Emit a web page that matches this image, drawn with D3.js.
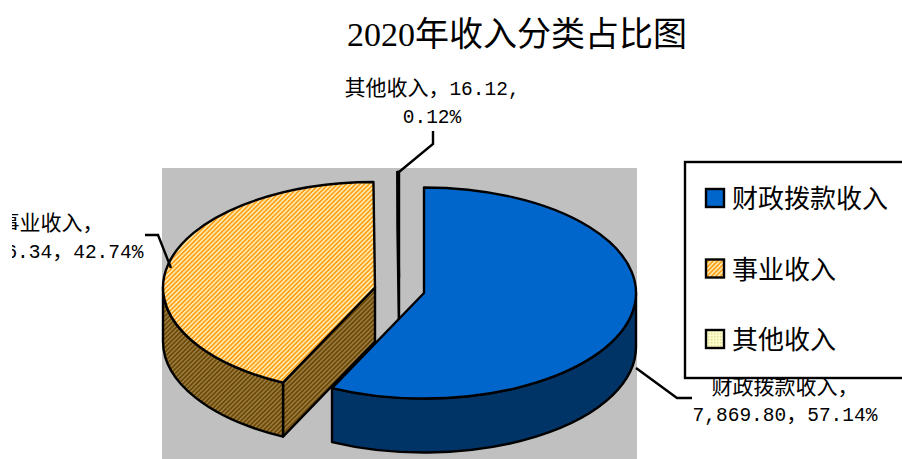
<!DOCTYPE html>
<html>
<head>
<meta charset="utf-8">
<script src="https://cdn.jsdelivr.net/npm/d3@7"></script>
<style>
html, body { margin: 0; padding: 0; background: #fff; overflow: hidden; }
svg { display: block; }
</style>
</head>
<body>
<svg id="chart"></svg>
<script>
const titleText = "2020年收入分类占比图";
const categories = ["财政拨款收入", "事业收入", "其他收入"];
const values = [7869.80, 5886.34, 16.12];
const percents = ["57.14%", "42.74%", "0.12%"];

const WIDTH = 902, HEIGHT = 459;
const RX = 212, RY = 105.5, DEPTH = 54;
const CJK = '"Noto Sans CJK SC"';
const LATIN = '"Liberation Mono"';

// each slice is pulled out of the pie, so each has its own centre
const centres = [[424, 293], [375, 287.5], [399, 277.5]];
const drawOrder = [2, 1, 0];

const svg = d3.select("#chart").attr("width", WIDTH).attr("height", HEIGHT);
const defs = svg.append("defs");

function stripes(id, base, line, w) {
    const p = defs.append("pattern").attr("id", id)
        .attr("width", w).attr("height", w)
        .attr("patternUnits", "userSpaceOnUse")
        .attr("patternTransform", "rotate(45)");
    p.append("rect").attr("width", w).attr("height", w).attr("fill", base);
    p.append("rect").attr("width", w / 2).attr("height", w).attr("fill", line);
}
stripes("orangeTop", "#ffe9a8", "#ff9f1a", 3.2);
stripes("orangeSide", "#967a44", "#6e4800", 3.2);

const dots = defs.append("pattern").attr("id", "paleDots")
    .attr("width", 3).attr("height", 3).attr("patternUnits", "userSpaceOnUse");
dots.append("rect").attr("width", 3).attr("height", 3).attr("fill", "#ffffcc");
dots.append("rect").attr("width", 1.5).attr("height", 1.5).attr("fill", "#e0e09c");

const topFills = ["#0066cc", "url(#orangeTop)", "url(#paleDots)"];
const sideFills = ["#003366", "url(#orangeSide)", "#88886a"];

svg.append("rect").attr("x", 162).attr("y", 168)
    .attr("width", 475).attr("height", HEIGHT - 168).attr("fill", "#c0c0c0");

const slices = d3.pie().sort(null)(values);

function pt(c, a, drop = 0) {
    return [c[0] + RX * Math.sin(a), c[1] - RY * Math.cos(a) + drop];
}
const arcTo = (p, sweep) => `A${RX},${RY} 0 0 ${sweep} ${p[0]},${p[1]}`;

function topPath(c, s) {
    const large = s.endAngle - s.startAngle > Math.PI ? 1 : 0;
    const p0 = pt(c, s.startAngle), p1 = pt(c, s.endAngle);
    return `M${c[0]},${c[1]}L${p0[0]},${p0[1]}A${RX},${RY} 0 ${large} 1 ${p1[0]},${p1[1]}Z`;
}

// outer wall, only the part that faces the viewer
function wallPath(c, s) {
    const a0 = Math.max(s.startAngle, Math.PI / 2);
    const a1 = Math.min(s.endAngle, Math.PI * 1.5);
    if (a1 <= a0) return null;
    const p0 = pt(c, a0), p1 = pt(c, a1);
    const q0 = pt(c, a0, DEPTH), q1 = pt(c, a1, DEPTH);
    return `M${p0[0]},${p0[1]}${arcTo(p1, 1)}L${q1[0]},${q1[1]}${arcTo(q0, 0)}Z`;
}

// flat cut at the start of a slice, seen where it faces right and down
function cutPath(c, s) {
    const p = pt(c, s.startAngle), q = pt(c, s.startAngle, DEPTH);
    return `M${c[0]},${c[1]}L${p[0]},${p[1]}L${q[0]},${q[1]}L${c[0]},${c[1] + DEPTH}Z`;
}

const pie = svg.append("g").attr("stroke", "#000").attr("stroke-width", 2.4)
    .attr("stroke-linejoin", "round");

drawOrder.forEach(i => {
    const s = slices[i], c = centres[i];
    if (i !== 0) pie.append("path").attr("d", cutPath(c, s)).attr("fill", sideFills[i]);
    const wall = wallPath(c, s);
    if (wall) pie.append("path").attr("d", wall).attr("fill", sideFills[i]);
    pie.append("path").attr("d", topPath(c, s)).attr("fill", topFills[i]);
});

// leader lines
const leaders = [
    [[692, 398], [677, 398], [636, 368]],
    [[145, 235], [158, 235], [171, 268]],
    [[433, 131], [433, 144], [399, 172]]
];
const line = d3.line();
svg.append("g").selectAll("path").data(leaders).join("path")
    .attr("d", line).attr("fill", "none").attr("stroke", "#000").attr("stroke-width", 2.4);

// mixed run text: latin in a mono face, chinese in the CJK face
function addText(parent, str, x, y, size, latinFace, latinSize) {
    const t = parent.append("text").attr("x", x).attr("y", y)
        .attr("text-anchor", "middle").attr("fill", "#000")
        .attr("font-family", CJK).attr("font-size", size);
    str.split(/([\x20-\x7e]+)/).filter(d => d).forEach(run => {
        const span = t.append("tspan").text(run);
        if (/^[\x20-\x7e]/.test(run)) {
            span.attr("font-family", latinFace).attr("font-size", latinSize);
        }
    });
    return t;
}

const money = d3.format(",.2f");

defs.append("clipPath").attr("id", "leftCut").append("rect")
    .attr("x", 12).attr("y", 0).attr("width", WIDTH).attr("height", HEIGHT);

const labels = svg.append("g");
const leftLabels = labels.append("g").attr("clip-path", "url(#leftCut)");
addText(labels, `${categories[2]}，${money(values[2])},`, 432, 95, 21, LATIN, 19.5);
addText(labels, percents[2], 432, 123, 21, LATIN, 19.5);
addText(leftLabels, `${categories[1]}，`, 51, 230, 21, LATIN, 19.5);
addText(leftLabels, `${money(values[1])}，${percents[1]}`, 51, 258, 21, LATIN, 19.5);
addText(labels, `${categories[0]}，`, 785, 394, 21, LATIN, 19.5);
addText(labels, `${money(values[0])}，${percents[0]}`, 785, 421, 21, LATIN, 19.5);

// legend sits on top of the first data label
const legend = svg.append("g");
legend.append("rect").attr("x", 685).attr("y", 162)
    .attr("width", 240).attr("height", 216)
    .attr("fill", "#fff").attr("stroke", "#000").attr("stroke-width", 2.4);

const legendY = d3.scalePoint().domain(categories).range([198, 339]);
categories.forEach((name, i) => {
    const y = legendY(name);
    legend.append("rect").attr("x", 706).attr("y", y - 9)
        .attr("width", 18).attr("height", 18)
        .attr("fill", topFills[i]).attr("stroke", "#000").attr("stroke-width", 2.4);
    legend.append("text").attr("x", 732).attr("y", y + 10)
        .attr("font-family", CJK).attr("font-size", 26).attr("fill", "#000")
        .text(name);
});

svg.append("text").attr("x", 517).attr("y", 46)
    .attr("text-anchor", "middle").attr("font-family", CJK)
    .attr("font-size", 34).attr("fill", "#000")
    .call(t => {
        t.append("tspan").attr("font-family", '"Liberation Serif"').text(titleText.slice(0, 4));
        t.append("tspan").text(titleText.slice(4));
    });
</script>
</body>
</html>
